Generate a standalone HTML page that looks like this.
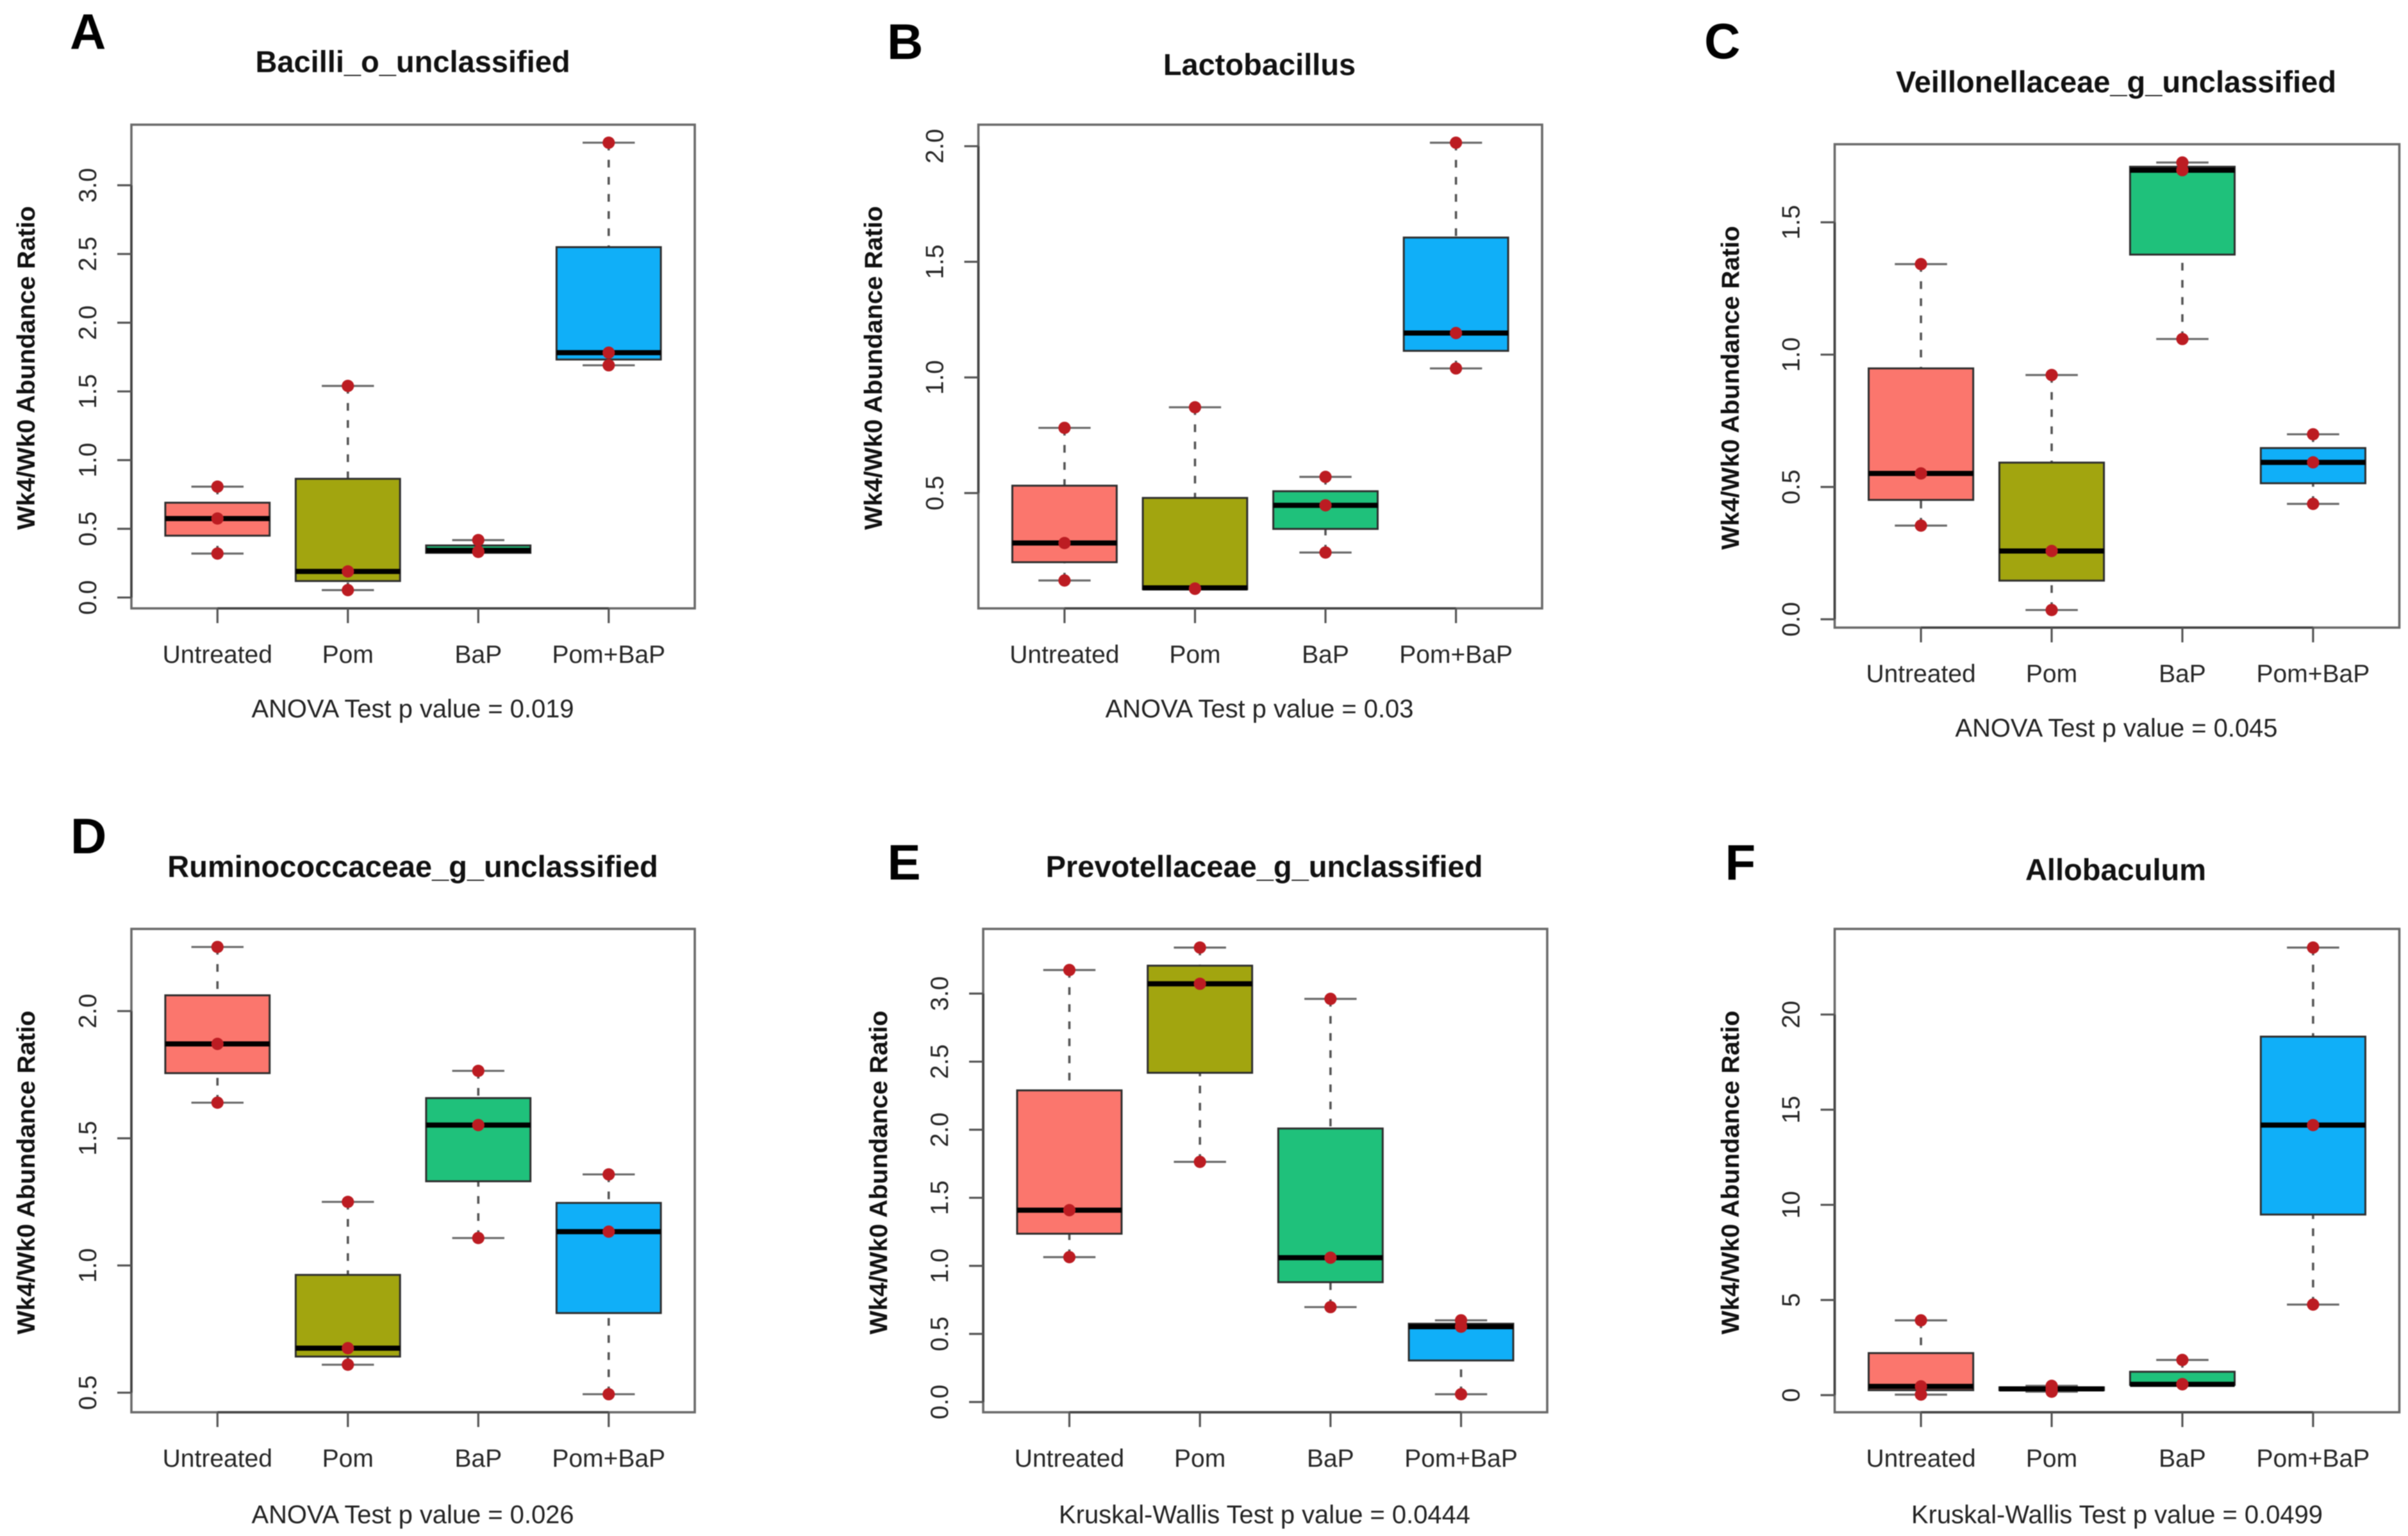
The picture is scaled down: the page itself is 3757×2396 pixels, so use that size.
<!DOCTYPE html>
<html lang="en">
<head>
<meta charset="utf-8">
<title>Wk4/Wk0 Abundance Ratio boxplots</title>
<style>
html,body{margin:0;padding:0;background:#fff;width:3757px;height:2396px;overflow:hidden}
svg{display:block;filter:blur(0.9px)}
text{font-family:"Liberation Sans",Arial,sans-serif}
.letter{font-size:78px;font-weight:700;fill:#000}
.title{font-size:47px;font-weight:700;fill:#111;text-anchor:middle}
.ylab{font-size:39.3px;font-weight:700;fill:#111;text-anchor:middle}
.xlab{font-size:39.9px;fill:#222;text-anchor:middle}
.tick{font-size:39px;fill:#262626;text-anchor:middle}
</style>
</head>
<body>
<svg id="figure" xmlns="http://www.w3.org/2000/svg" width="3757" height="2396" viewBox="0 0 3757 2396">
<rect x="0" y="0" width="3757" height="2396" fill="#fff"/>

<g id="panel-A">
<text class="letter" x="109" y="76">A</text>
<text class="title" x="644" y="112.5">Bacilli_o_unclassified</text>
<text class="ylab" transform="translate(54 574) rotate(-90)">Wk4/Wk0 Abundance Ratio</text>
<text class="xlab" x="644" y="1119">ANOVA Test p value = 0.019</text>
</g>

<g id="panel-B">
<text class="letter" x="1384" y="92">B</text>
<text class="title" x="1965" y="117">Lactobacillus</text>
<text class="ylab" transform="translate(1376 574) rotate(-90)">Wk4/Wk0 Abundance Ratio</text>
<text class="xlab" x="1965" y="1119">ANOVA Test p value = 0.03</text>
</g>

<g id="panel-C">
<text class="letter" x="2659" y="91">C</text>
<text class="title" x="3301.5" y="144">Veillonellaceae_g_unclassified</text>
<text class="ylab" transform="translate(2713 605) rotate(-90)">Wk4/Wk0 Abundance Ratio</text>
<text class="xlab" x="3302" y="1149">ANOVA Test p value = 0.045</text>
</g>

<g id="panel-D">
<text class="letter" x="110" y="1331">D</text>
<text class="title" x="644" y="1368">Ruminococcaceae_g_unclassified</text>
<text class="ylab" transform="translate(54 1829) rotate(-90)">Wk4/Wk0 Abundance Ratio</text>
<text class="xlab" x="644" y="2376">ANOVA Test p value = 0.026</text>
</g>

<g id="panel-E">
<text class="letter" x="1384.5" y="1372">E</text>
<text class="title" x="1972.5" y="1368">Prevotellaceae_g_unclassified</text>
<text class="ylab" transform="translate(1384 1829) rotate(-90)">Wk4/Wk0 Abundance Ratio</text>
<text class="xlab" x="1973" y="2376">Kruskal-Wallis Test p value = 0.0444</text>
</g>

<g id="panel-F">
<text class="letter" x="2691.5" y="1372">F</text>
<text class="title" x="3301" y="1373">Allobaculum</text>
<text class="ylab" transform="translate(2713 1829) rotate(-90)">Wk4/Wk0 Abundance Ratio</text>
<text class="xlab" x="3303" y="2376">Kruskal-Wallis Test p value = 0.0499</text>
</g>
</svg>

<script>
// Shared categories
const categories = ["Untreated", "Pom", "BaP", "Pom+BaP"];

// Panel A: Bacilli_o_unclassified
const domainA = [-0.079, 3.441];
const tickValuesA = [0, 0.5, 1, 1.5, 2, 2.5, 3];
const tickLabelsA = ["0.0", "0.5", "1.0", "1.5", "2.0", "2.5", "3.0"];
const lowA = [0.32, 0.054, 0.332, 1.69];
const q1A = [0.45, 0.12, 0.325, 1.732];
const medA = [0.575, 0.19, 0.343, 1.782];
const q3A = [0.69, 0.864, 0.379, 2.55];
const highA = [0.807, 1.54, 0.418, 3.31];
const pointsA = [[0.32, 0.575, 0.807], [0.054, 0.19, 1.54], [0.332, 0.335, 0.418], [1.69, 1.782, 3.31]];

// Panel B: Lactobacillus
const domainB = [0.0014, 2.093];
const tickValuesB = [0.5, 1, 1.5, 2];
const tickLabelsB = ["0.5", "1.0", "1.5", "2.0"];
const lowB = [0.122, 0.086, 0.243, 1.039];
const q1B = [0.201, 0.084, 0.345, 1.115];
const medB = [0.284, 0.09, 0.447, 1.192];
const q3B = [0.532, 0.479, 0.508, 1.605];
const highB = [0.782, 0.871, 0.57, 2.015];
const pointsB = [[0.122, 0.284, 0.782], [0.086, 0.087, 0.871], [0.243, 0.447, 0.57], [1.039, 1.192, 2.015]];

// Panel C: Veillonellaceae_g_unclassified
const domainC = [-0.0315, 1.795];
const tickValuesC = [0, 0.5, 1, 1.5];
const tickLabelsC = ["0.0", "0.5", "1.0", "1.5"];
const lowC = [0.354, 0.035, 1.059, 0.436];
const q1C = [0.451, 0.146, 1.378, 0.514];
const medC = [0.551, 0.258, 1.697, 0.593];
const q3C = [0.948, 0.592, 1.71, 0.647];
const highC = [1.342, 0.923, 1.726, 0.699];
const pointsC = [[0.354, 0.551, 1.342], [0.035, 0.258, 0.923], [1.059, 1.697, 1.726], [0.436, 0.593, 0.699]];

// Panel D: Ruminococcaceae_g_unclassified
const domainD = [0.423, 2.323];
const tickValuesD = [0.5, 1, 1.5, 2];
const tickLabelsD = ["0.5", "1.0", "1.5", "2.0"];
const lowD = [1.64, 0.61, 1.108, 0.494];
const q1D = [1.756, 0.642, 1.331, 0.813];
const medD = [1.871, 0.675, 1.552, 1.133];
const q3D = [2.062, 0.963, 1.658, 1.246];
const highD = [2.252, 1.25, 1.765, 1.358];
const pointsD = [[1.64, 1.871, 2.252], [0.61, 0.675, 1.25], [1.108, 1.552, 1.765], [0.494, 1.133, 1.358]];

// Panel E: Prevotellaceae_g_unclassified
const domainE = [-0.0755, 3.475];
const tickValuesE = [0, 0.5, 1, 1.5, 2, 2.5, 3];
const tickLabelsE = ["0.0", "0.5", "1.0", "1.5", "2.0", "2.5", "3.0"];
const lowE = [1.064, 1.764, 0.697, 0.057];
const q1E = [1.236, 2.418, 0.88, 0.305];
const medE = [1.409, 3.072, 1.06, 0.553];
const q3E = [2.289, 3.205, 2.009, 0.575];
const highE = [3.173, 3.338, 2.961, 0.6];
const pointsE = [[1.064, 1.409, 3.173], [1.764, 3.072, 3.338], [0.697, 1.06, 2.961], [0.057, 0.553, 0.6]];

// Panel F: Allobaculum
const domainF = [-0.9, 24.5];
const tickValuesF = [0, 5, 10, 15, 20];
const tickLabelsF = ["0", "5", "10", "15", "20"];
const lowF = [0.026, 0.18, 0.57, 4.76];
const q1F = [0.26, 0.26, 0.54, 9.49];
const medF = [0.46, 0.33, 0.57, 14.19];
const q3F = [2.21, 0.41, 1.23, 18.84];
const highF = [3.93, 0.49, 1.85, 23.52];
const pointsF = [[0.03, 0.46, 3.93], [0.18, 0.33, 0.49], [0.57, 0.58, 1.85], [4.76, 14.19, 23.52]];

// Series colours
const fillColors = ["#FB766D", "#A2A50F", "#1FC17B", "#10AFF8"];

// Plot frames (layout only)
const frames = {
  A: {left: 205, right: 1084, top: 194.5, bottom: 949},
  B: {left: 1526.5, right: 2406, top: 194.5, bottom: 949},
  C: {left: 2862.5, right: 3743.5, top: 225, bottom: 979},
  D: {left: 205, right: 1084, top: 1449, bottom: 2203},
  E: {left: 1534, right: 2414, top: 1449, bottom: 2203},
  F: {left: 2862.5, right: 3743.5, top: 1449, bottom: 2203}
};

const SVG_NS = "http://www.w3.org/2000/svg";

function make(parent, tag, attrs) {
  const el = document.createElementNS(SVG_NS, tag);
  for (const key in attrs) el.setAttribute(key, attrs[key]);
  parent.appendChild(el);
  return el;
}

function drawPanel(key, domain, tickValues, tickLabels, low, q1, med, q3, high, points) {
  const lower = key.toLowerCase();
  const root = document.getElementById("panel-" + key);
  const frame = frames[key];
  const width = frame.right - frame.left;
  const height = frame.bottom - frame.top;

  // R boxplot axis: categories at 1..n on a 0.5..n+0.5 range extended by 4%
  const n = categories.length;
  const unit = width / (n * 1.08);
  const xScale = function (i) { return frame.left + (i + 1 - 0.5 + 0.16) * unit; };
  const yScale = function (v) { return frame.bottom - (v - domain[0]) / (domain[1] - domain[0]) * height; };

  const plotFrame = make(root, "rect", {x: frame.left, y: frame.top, width: width, height: height, fill: "none", stroke: "#6a6a6a", "stroke-width": 3.6});
  
  

  // Y axis
  const yAxis = make(root, "line", {x1: frame.left, x2: frame.left, y1: yScale(tickValues[0]), y2: yScale(tickValues[tickValues.length - 1]), stroke: "#444", "stroke-width": 3.6});
  
  

  tickValues.forEach(function (value, t) {
    const y = yScale(value);
    const mark = make(root, "line", {x1: frame.left - 22, x2: frame.left, y1: y, y2: y, stroke: "#555", "stroke-width": 3.2});
    
    
    const label = make(root, "text", {"class": "tick", transform: "translate(" + (frame.left - 55) + " " + y + ") rotate(-90)"});
    
    
    label.textContent = tickLabels[t];
  });

  // X axis
  const xAxis = make(root, "line", {x1: xScale(0), x2: xScale(n - 1), y1: frame.bottom, y2: frame.bottom, stroke: "#444", "stroke-width": 3.6});
  
  

  categories.forEach(function (name, i) {
    const x = xScale(i);
    const slug = name.toLowerCase().replace("+", "-");
    const halfBox = 0.4 * unit;
    const halfStaple = 0.2 * unit;

    const mark = make(root, "line", {x1: x, x2: x, y1: frame.bottom, y2: frame.bottom + 23, stroke: "#555", "stroke-width": 3.2});
    
    

    const label = make(root, "text", {"class": "tick", x: x, y: frame.bottom + 85});
    
    
    label.textContent = name;

    const whiskerHigh = make(root, "line", {x1: x, x2: x, y1: yScale(high[i]), y2: yScale(q3[i]), stroke: "#555", "stroke-width": 3.6, "stroke-dasharray": "12 14.7"});
    
    

    const whiskerLow = make(root, "line", {x1: x, x2: x, y1: yScale(low[i]), y2: yScale(q1[i]), stroke: "#555", "stroke-width": 3.6, "stroke-dasharray": "12 14.7"});
    
    

    const stapleHigh = make(root, "line", {x1: x - halfStaple, x2: x + halfStaple, y1: yScale(high[i]), y2: yScale(high[i]), stroke: "#6a6a6a", "stroke-width": 3.2});
    
    

    const stapleLow = make(root, "line", {x1: x - halfStaple, x2: x + halfStaple, y1: yScale(low[i]), y2: yScale(low[i]), stroke: "#6a6a6a", "stroke-width": 3.2});
    
    

    const box = make(root, "rect", {x: x - halfBox, y: yScale(q3[i]), width: 2 * halfBox, height: Math.max(0, yScale(q1[i]) - yScale(q3[i])), fill: fillColors[i], stroke: "#2e2e2e", "stroke-width": 3});
    
    

    const median = make(root, "line", {x1: x - halfBox, x2: x + halfBox, y1: yScale(med[i]), y2: yScale(med[i]), stroke: "#000", "stroke-width": 8});
    
    

    points[i].forEach(function (value, p) {
      const dot = make(root, "circle", {cx: x, cy: yScale(value), r: 9.6, fill: "#BC1C22"});
      
      
    });
  });
}

drawPanel("A", domainA, tickValuesA, tickLabelsA, lowA, q1A, medA, q3A, highA, pointsA);
drawPanel("B", domainB, tickValuesB, tickLabelsB, lowB, q1B, medB, q3B, highB, pointsB);
drawPanel("C", domainC, tickValuesC, tickLabelsC, lowC, q1C, medC, q3C, highC, pointsC);
drawPanel("D", domainD, tickValuesD, tickLabelsD, lowD, q1D, medD, q3D, highD, pointsD);
drawPanel("E", domainE, tickValuesE, tickLabelsE, lowE, q1E, medE, q3E, highE, pointsE);
drawPanel("F", domainF, tickValuesF, tickLabelsF, lowF, q1F, medF, q3F, highF, pointsF);
</script>
</body>
</html>
